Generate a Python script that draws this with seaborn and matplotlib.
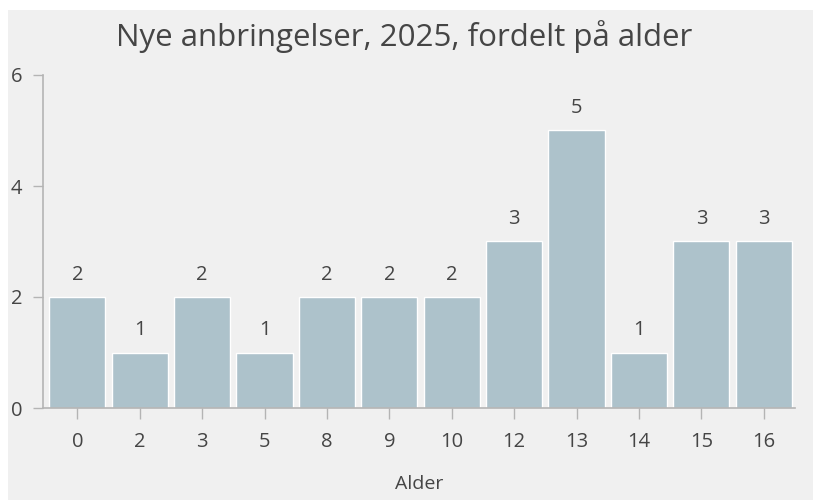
import matplotlib
matplotlib.use("Agg")
import matplotlib.pyplot as plt
import seaborn as sns
import pandas as pd
from matplotlib.patches import Rectangle

ages = ["0", "2", "3", "5", "8", "9", "10", "12", "13", "14", "15", "16"]
counts = [2, 1, 2, 1, 2, 2, 2, 3, 5, 1, 3, 3]
title = "Nye anbringelser, 2025, fordelt på alder"
xlabel = "Alder"

df = pd.DataFrame({"Alder": ages, "Antal": counts})

sns.set_theme(style="white")
plt.rcParams["font.family"] = ["Open Sans", "DejaVu Sans"]

fig = plt.figure(figsize=(8.13, 5.0), dpi=100, facecolor="white")
bg = "#f0f0f0"
fig.patches.append(Rectangle((8 / 813, 0), 1 - 8 / 813, 1 - 10 / 500,
                             transform=fig.transFigure, facecolor=bg,
                             edgecolor="none", zorder=-10))

ax = fig.add_axes([43 / 813, 92 / 500, 752 / 813, 333 / 500])
ax.set_facecolor(bg)
ax.patch.set_alpha(0)

sns.barplot(data=df, x="Alder", y="Antal", order=ages, color="#adc2cb",
            saturation=1, width=0.9, ax=ax)

txt = "#454545"
for c in ax.containers:
    ax.bar_label(c, padding=9, fontsize=14.5, color=txt)

ax.set_xlim(-0.55, 11.5)
ax.set_ylim(0, 6)
ax.set_yticks([0, 2, 4, 6])
ax.set_ylabel("")
ax.set_xlabel(xlabel, fontsize=14, color=txt, labelpad=17)

for s in ["top", "right"]:
    ax.spines[s].set_visible(False)
for s in ["left", "bottom"]:
    ax.spines[s].set_color("#b4b4b4")
    ax.spines[s].set_linewidth(1.2)

ax.tick_params(axis="y", which="both", left=True, length=7, width=1,
               color="#b4b4b4", labelsize=14.5, labelcolor=txt, pad=8)
ax.tick_params(axis="x", which="both", bottom=True, length=8, width=1,
               color="#b4b4b4", labelsize=14.5, labelcolor=txt, pad=9)

fig.text(404 / 813, 1 - 46 / 500, title, ha="center", va="baseline",
         fontsize=22.5, color=txt)

fig.savefig("out.png", dpi=100, facecolor="white")
